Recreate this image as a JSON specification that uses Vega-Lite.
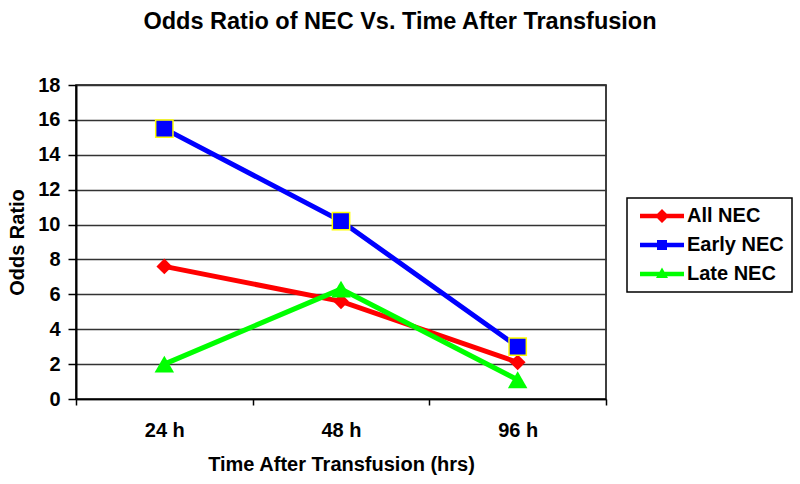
{
  "$schema": "https://vega.github.io/schema/vega-lite/v6.json",
  "width": 530,
  "height": 314,
  "autosize": {"type": "none"},
  "padding": {"left": 76, "top": 85, "right": 194, "bottom": 85},
  "background": "white",
  "config": {
    "font": "Liberation Sans",
    "view": {"stroke": "#000", "strokeWidth": 1.5}
  },
  "title": {
    "text": "Odds Ratio of NEC Vs. Time After Transfusion",
    "fontSize": 23.5,
    "fontWeight": "bold",
    "font": "Liberation Sans",
    "color": "#000",
    "anchor": "middle",
    "dx": 59,
    "offset": 42
  },
  "data": {
    "values": [
      {"time": "24 h", "series": "All NEC", "value": 7.6},
      {"time": "48 h", "series": "All NEC", "value": 5.6},
      {"time": "96 h", "series": "All NEC", "value": 2.1},
      {"time": "24 h", "series": "Early NEC", "value": 15.5},
      {"time": "48 h", "series": "Early NEC", "value": 10.2},
      {"time": "96 h", "series": "Early NEC", "value": 3.0},
      {"time": "24 h", "series": "Late NEC", "value": 2.0},
      {"time": "48 h", "series": "Late NEC", "value": 6.3},
      {"time": "96 h", "series": "Late NEC", "value": 1.1}
    ]
  },
  "encoding": {
    "x": {
      "field": "time",
      "type": "ordinal",
      "scale": {"type": "band", "paddingInner": 0, "paddingOuter": 0},
      "axis": {
        "title": "Time After Transfusion (hrs)",
        "titleFontSize": 20,
        "titleFontWeight": "bold",
        "titleColor": "#000",
        "titlePadding": 14,
        "labelAngle": 0,
        "labelFontSize": 20,
        "labelFontWeight": "bold",
        "labelColor": "#000",
        "labelPadding": 15,
        "tickBand": "extent",
        "tickSize": 6,
        "tickColor": "#000",
        "tickWidth": 1.5,
        "domainColor": "#000",
        "domainWidth": 1.5,
        "grid": false
      }
    },
    "y": {
      "field": "value",
      "type": "quantitative",
      "scale": {"domain": [0, 18], "nice": false},
      "axis": {
        "title": "Odds Ratio",
        "titleFontSize": 20,
        "titleFontWeight": "bold",
        "titleColor": "#000",
        "titlePadding": 10,
        "values": [0, 2, 4, 6, 8, 10, 12, 14, 16, 18],
        "labelFontSize": 20,
        "labelFontWeight": "bold",
        "labelColor": "#000",
        "labelPadding": 8,
        "tickSize": 8,
        "tickColor": "#000",
        "tickWidth": 1.5,
        "domainColor": "#000",
        "domainWidth": 2,
        "grid": true,
        "gridColor": "#333",
        "gridWidth": 1.6,
        "gridOpacity": 1
      }
    },
    "color": {
      "field": "series",
      "type": "nominal",
      "scale": {
        "domain": ["All NEC", "Early NEC", "Late NEC"],
        "range": ["#FF0000", "#0000FF", "#00FF00"]
      },
      "legend": {
        "title": null,
        "orient": "none",
        "legendX": 551,
        "legendY": 113,
        "padding": 8,
        "strokeColor": "#000",
        "fillColor": "#fff",
        "labelFontSize": 20,
        "labelFontWeight": "bold",
        "labelColor": "#000",
        "labelOffset": 32,
        "rowPadding": 9,
        "symbolSize": 100,
        "symbolStrokeWidth": 0,
        "symbolOpacity": 1,
        "encode": {
          "legend": {
            "update": {
              "strokeWidth": {"value": 1.5}
            }
          },
          "symbols": {
            "update": {
              "shape": {
                "signal": "datum.value == 'All NEC' ? 'M-1,-0.45H7.8V0.45H-1Z M3.4,-1.4L4.8,0L3.4,1.4L2.0,0Z' : datum.value == 'Early NEC' ? 'M-1,-0.45H7.8V0.45H-1Z M2.4,-1H4.4V1H2.4Z' : 'M-1,-0.45H7.8V0.45H-1Z M3.4,-1.3L4.6,0.8L2.2,0.8Z'"
              },
              "opacity": {"value": 1}
            }
          }
        }
      }
    }
  },
  "layer": [
    {
      "mark": {"type": "line", "strokeWidth": 5},
      "encoding": {}
    },
    {
      "transform": [{"filter": "datum.series == 'All NEC'"}],
      "mark": {"type": "point", "shape": "diamond", "filled": true, "opacity": 1, "size": 250, "strokeWidth": 0},
      "encoding": {}
    },
    {
      "transform": [{"filter": "datum.series == 'Early NEC'"}],
      "mark": {"type": "point", "shape": "square", "filled": true, "opacity": 1, "size": 300, "stroke": "#FFFF00", "strokeWidth": 1.5},
      "encoding": {}
    },
    {
      "transform": [{"filter": "datum.series == 'Late NEC'"}],
      "mark": {"type": "point", "shape": "triangle-up", "filled": true, "opacity": 1, "size": 380, "strokeWidth": 0},
      "encoding": {}
    }
  ]
}
